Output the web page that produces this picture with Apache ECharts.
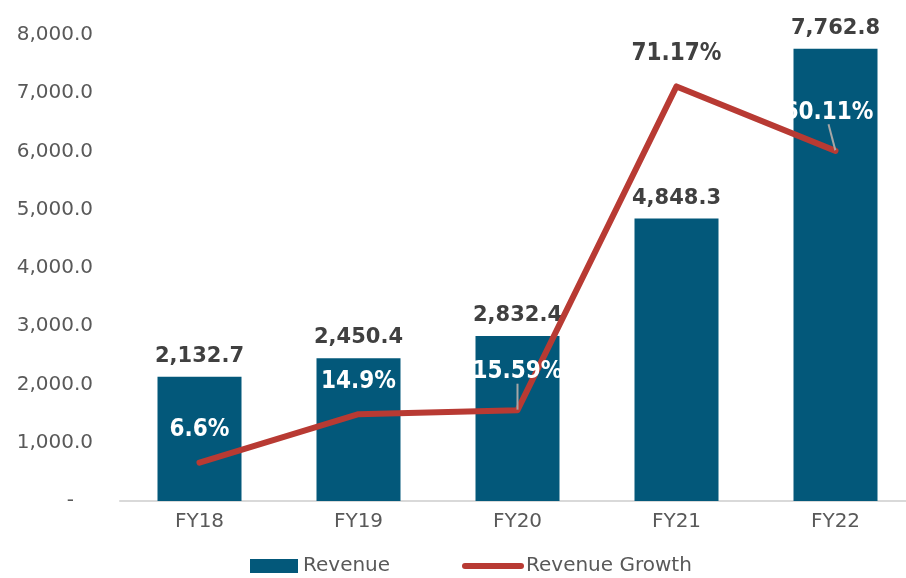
<!DOCTYPE html>
<html>
<head>
<meta charset="utf-8">
<script src="https://cdn.jsdelivr.net/npm/echarts@6/dist/echarts.min.js"></script>
<style>
	html, body { margin: 0; padding: 0; background: #fff; }
	#chart { width: 906px; height: 578px; }
</style>
</head>
<body>
<div id="chart"></div>
<script>
var years = ['FY18', 'FY19', 'FY20', 'FY21', 'FY22'];
var revenue = [2132.7, 2450.4, 2832.4, 4848.3, 7762.8];
var growth = [6.6, 14.9, 15.59, 71.17, 60.11];
var yTicks = [0, 1000, 2000, 3000, 4000, 5000, 6000, 7000, 8000];

var revChart;

function fmtNum(v) {
	if (v === 0) return '-   ';
	return v.toLocaleString('en-US', { minimumFractionDigits: 1, maximumFractionDigits: 1 });
}

function initChart() {
	revChart = echarts.init(document.getElementById('chart'));
	var font = 'DejaVu Sans';
	var growthData = growth.map(function(v, i) {
		var item = { value: v };
		if (i === 3) {
			item.label = { color: '#404040' };
		}
		if (i === 2 || i === 4) {
			item.labelLine = { show: true };
		}
		return item;
	});
	var legendText = { fontSize: 20, color: '#595959', fontFamily: font };
	var option = {
		animation: false,
		textStyle: { fontFamily: font },
		grid: { left: 120, top: 35, right: -9, bottom: 77, outerBoundsMode: 'none', containLabel: false },
		legend: [{
			top: 551,
			left: 245,
			itemWidth: 48,
			itemHeight: 14,
			textStyle: legendText,
			data: [{ name: 'Revenue', icon: 'rect' }]
		}, {
			top: 551,
			left: 457,
			itemWidth: 56,
			itemHeight: 14,
			textStyle: legendText,
			data: [{
				name: 'Revenue Growth',
				itemStyle: { opacity: 0 },
				lineStyle: { width: 6, cap: 'round', color: '#b83a33' }
			}]
		}],
		xAxis: {
			type: 'category',
			data: years,
			axisLine: { lineStyle: { color: '#d9d9d9', width: 2 } },
			axisTick: { show: false },
			axisLabel: { fontSize: 20, color: '#595959', margin: 11 }
		},
		yAxis: [{
			type: 'value',
			min: yTicks[0],
			max: yTicks[yTicks.length - 1],
			interval: 1000,
			splitLine: { show: false },
			axisLine: { show: false },
			axisTick: { show: false },
			axisLabel: {
				fontSize: 20,
				color: '#595959',
				margin: 27,
				formatter: fmtNum
			}
		}, {
			type: 'value',
			min: 0,
			max: 80,
			show: false
		}],
		series: [{
			name: 'Revenue',
			type: 'bar',
			data: revenue,
			barWidth: 84,
			itemStyle: { color: '#03587a' },
			label: {
				show: true,
				position: 'top',
				distance: 10,
				fontSize: 21,
				fontWeight: 'bold',
				color: '#404040',
				formatter: function(p) { return fmtNum(p.value); }
			}
		}, {
			name: 'Revenue Growth',
			type: 'line',
			yAxisIndex: 1,
			data: growthData,
			symbol: 'circle',
			symbolSize: 1,
			lineStyle: { color: '#b83a33', width: 6, cap: 'round', join: 'round' },
			itemStyle: { color: '#b83a33' },
			label: {
				show: true,
				position: 'top',
				distance: 20,
				fontSize: 24,
				fontWeight: 'bold',
				fontFamily: 'DejaVu Sans Condensed',
				color: '#ffffff',
				formatter: function(p) { return p.value + '%'; }
			},
			labelLine: { show: false, lineStyle: { color: '#a6a6a6', width: 2 } },
			labelLayout: function(p) {
				if (p.dataIndex === 2) return { dy: -6 };
				if (p.dataIndex === 4) return { dx: -7, dy: -6 };
				return {};
			}
		}]
	};
	revChart.setOption(option);
}

initChart();
</script>
</body>
</html>
